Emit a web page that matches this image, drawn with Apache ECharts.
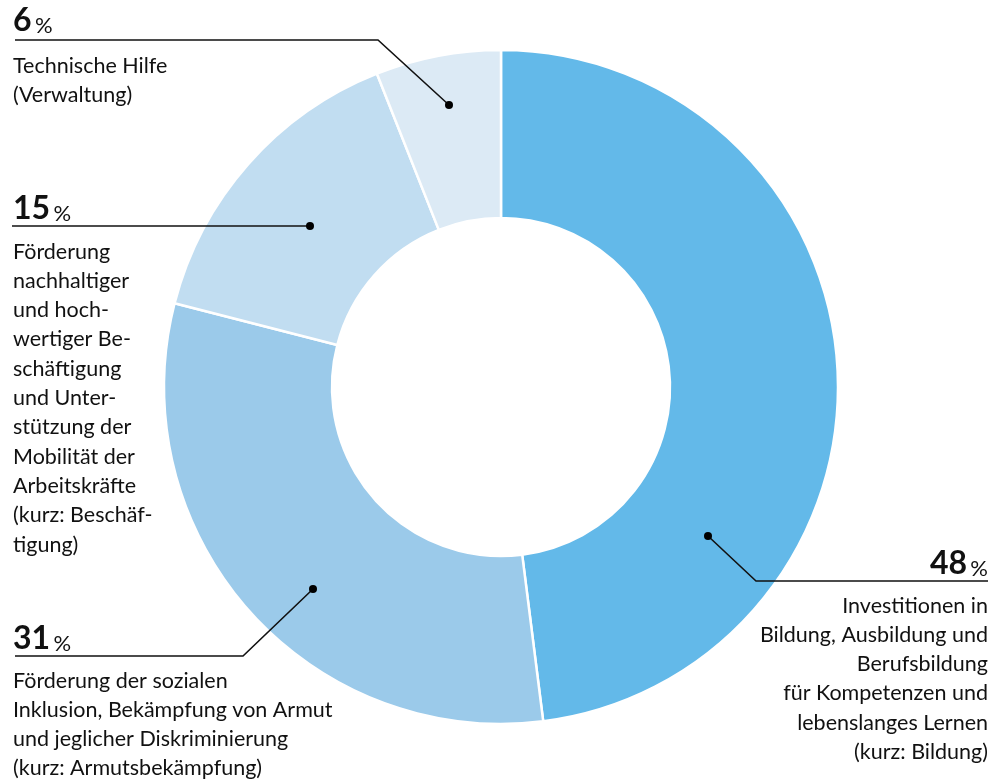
<!DOCTYPE html>
<html>
<head>
<meta charset="utf-8">
<script src="https://cdn.jsdelivr.net/npm/echarts@6/dist/echarts.min.js"></script>
<style>
html,body{margin:0;padding:0;background:#fff;}
#chart{width:995px;height:780px;}
</style>
</head>
<body>
<div id="chart"></div>
<script>
// ---- data ----
const categories = ['Bildung', 'Armutsbekämpfung', 'Beschäftigung', 'Verwaltung'];
const values = [48, 31, 15, 6];
const descriptions = [
  ['Investitionen in', 'Bildung, Ausbildung und', 'Berufsbildung', 'für Kompetenzen und', 'lebenslanges Lernen', '(kurz: Bildung)'],
  ['Förderung der sozialen', 'Inklusion, Bekämpfung von Armut', 'und jeglicher Diskriminierung', '(kurz: Armutsbekämpfung)'],
  ['Förderung', 'nachhaltiger', 'und hoch-', 'wertiger Be-', 'schäftigung', 'und Unter-', 'stützung der', 'Mobilität der', 'Arbeitskräfte', '(kurz: Beschäf-', 'tigung)'],
  ['Technische Hilfe', '(Verwaltung)']
];
const colors = ['#63b9e9', '#9bcaea', '#c1ddf1', '#dceaf5'];

// ---- layout (annotation placement) ----
const FONT = 'Lato, "Liberation Sans", sans-serif';
const annot = [
  { x: 988, align: 'right', numY: 563, lineY: 581, lineFrom: 988, elbowX: 756, dot: [708, 536], textY: 591 },
  { x: 13, align: 'left', numY: 638, lineY: 656, lineFrom: 15, elbowX: 243, dot: [313, 589], textY: 666 },
  { x: 13, align: 'left', numY: 208, lineY: 226, lineFrom: 12, elbowX: 310, dot: [310, 226], textY: 237 },
  { x: 13, align: 'left', numY: 20, lineY: 40, lineFrom: 15, elbowX: 378, dot: [449, 105], textY: 51 }
];

const graphics = [];
values.forEach((v, i) => {
  const a = annot[i];
  graphics.push({
    type: 'polyline',
    silent: true, z: 100,
    shape: { points: [[a.lineFrom, a.lineY], [a.elbowX, a.lineY], a.dot] },
    style: { stroke: '#111', lineWidth: 1.6, fill: null }
  });
  graphics.push({
    type: 'circle',
    silent: true, z: 101,
    shape: { cx: a.dot[0], cy: a.dot[1], r: 4 },
    style: { fill: '#000' }
  });
  graphics.push({
    type: 'text',
    silent: true, z: 100,
    x: a.x, y: a.numY,
    style: {
      text: '{n|' + v + '} {p|%}',
      textAlign: a.align,
      textVerticalAlign: 'middle',
      rich: {
        n: { font: 'bold 32px ' + FONT, fill: '#111', verticalAlign: 'bottom', lineHeight: 34 },
        p: { font: '22px ' + FONT, fill: '#111', verticalAlign: 'bottom', lineHeight: 30 }
      }
    }
  });
  graphics.push({
    type: 'text',
    silent: true, z: 100,
    x: a.x, y: a.textY,
    style: {
      text: descriptions[i].join('\n'),
      font: '21.5px ' + FONT,
      fill: '#111',
      lineHeight: 29.3,
      textAlign: a.align,
      textVerticalAlign: 'top'
    }
  });
});

const chart = echarts.init(document.getElementById('chart'), null, { renderer: 'canvas' });
chart.setOption({
  backgroundColor: '#ffffff',
  animation: false,
  series: [{
    type: 'pie',
    center: [501, 387],
    radius: [169, 337],
    startAngle: 90,
    clockwise: true,
    silent: true,
    z: 1,
    label: { show: false },
    labelLine: { show: false },
    itemStyle: { borderColor: '#ffffff', borderWidth: 2.5 },
    data: values.map((v, i) => ({ name: categories[i], value: v, itemStyle: { color: colors[i] } }))
  }],
  graphic: { elements: graphics }
});
</script>
</body>
</html>
